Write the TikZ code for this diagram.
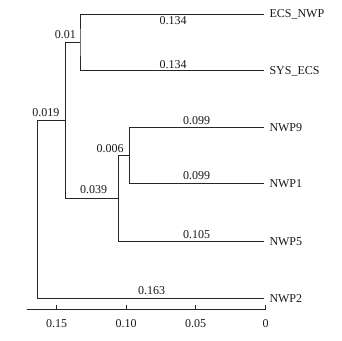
\documentclass[tikz,border=0pt]{standalone}
\usepackage{fontspec}
\setmainfont{Liberation Serif}
\begin{document}
\begin{tikzpicture}[x=1pt,y=-1pt,
  br/.style={draw=black!85, line width=0.9pt},
  lbl/.style={font=\fontsize{12}{14}\selectfont, inner sep=0pt, text=black!90},
  leaf/.style={lbl, anchor=west},
  ax/.style={draw=black!85, line width=0.9pt}]
\useasboundingbox (0,0) rectangle (342,340);
% tips
\coordinate (t1) at (264,14);
\coordinate (t2) at (264,70.9);
\coordinate (t3) at (264,127.5);
\coordinate (t4) at (264,183.5);
\coordinate (t5) at (264,241);
\coordinate (t6) at (264,298.3);
% internal nodes
\coordinate (n01) at (80,42.4);
\coordinate (n006) at (129.3,155.5);
\coordinate (n039) at (118.3,198.3);
\coordinate (n019) at (65.7,120.4);
\coordinate (root) at (37.7,120.4);
% leaf labels
\node[leaf] (L1) at (269.3,14.5) {ECS\_NWP};
\node[leaf] (L2) at (269.3,71.4) {SYS\_ECS};
\node[leaf] (L3) at (269.3,128) {NWP9};
\node[leaf] (L4) at (269.3,184) {NWP1};
\node[leaf] (L5) at (269.3,241.5) {NWP5};
\node[leaf] (L6) at (269.3,298.8) {NWP2};
% branches
\draw[br] (t1) -| (n01) |- (t2);
\draw[br] (t3) -| (n006) |- (t4);
\draw[br] (n006) -| (n039) |- (t5);
\draw[br] (n01) -| (n019) |- (n039);
\draw[br] (n019) -- (root) |- (t6);
% branch length labels
\node[lbl] (b1) at (173,20.5) {0.134};
\node[lbl] (b2) at (173,65) {0.134};
\node[lbl] (b3) at (196.7,121) {0.099};
\node[lbl] (b4) at (196.7,175.5) {0.099};
\node[lbl] (b5) at (196.7,235) {0.105};
\node[lbl] (b6) at (151.7,291) {0.163};
\node[lbl] (b7) at (65.3,34.5) {0.01};
\node[lbl] (b8) at (45.8,113) {0.019};
\node[lbl] (b9) at (110,149) {0.006};
\node[lbl] (b10) at (93.5,189.5) {0.039};
% axis
\coordinate (a0) at (26.7,309.5);
\coordinate (a1) at (265.7,309.5);
\draw[ax] (a0) -- (a1);
\foreach \x/\t [count=\i] in {56.7/0.15,126/0.10,195.7/0.05,265.7/0}{
  \coordinate (tk\i) at (\x,309.5);
  \draw[ax] (tk\i) -- ++(0,-4.5);
  \node[lbl] (tl\i) at (\x,324) {\t};
}
\end{tikzpicture}
\end{document}
